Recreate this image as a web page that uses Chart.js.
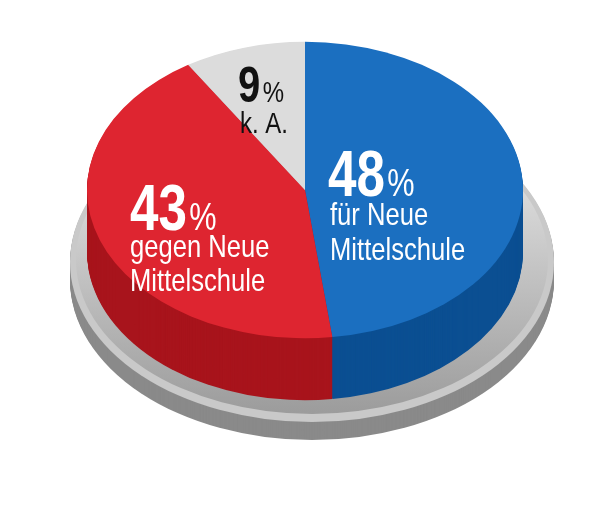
<!DOCTYPE html>
<html><head><meta charset="utf-8">
<script src="https://cdn.jsdelivr.net/npm/chart.js@4"></script>
<style>html,body{margin:0;background:#fff}#c{display:block}</style>
</head><body>
<div style="width:610px;height:508px"><canvas id="c" width="610" height="508"></canvas></div>
<script>
const categories = ['für Neue Mittelschule', 'gegen Neue Mittelschule', 'k. A.'];
const values = [48, 43, 9];
const topColors = ['#1b6fc0', '#de2530', '#dcdcdc'];
const sideColors = ['#0b4f92', '#a8141c', '#a9a9a9'];
const SY = 0.68, DEPTH = 62;
const FONT = "'Liberation Sans',sans-serif";

const pie3d = {
  id: 'pie3d',
  beforeDraw(chart) {
    const ctx = chart.ctx;
    ctx.save();
    for (let d = 18; d >= 0; d--) {
      ctx.beginPath();
      ctx.ellipse(312, 262 + d, 242, 160, 0, 0, Math.PI * 2);
      ctx.fillStyle = d > 0 ? '#8a8a8a' : '#c9c9c9';
      ctx.fill();
    }
    const g = ctx.createLinearGradient(0, 110, 0, 420);
    g.addColorStop(0, '#f0f0f0'); g.addColorStop(1, '#9a9a9a');
    ctx.beginPath(); ctx.ellipse(312, 260, 236, 154, 0, 0, Math.PI * 2);
    ctx.fillStyle = g; ctx.fill();
    ctx.restore();
  },
  beforeDatasetsDraw(chart) {
    const ctx = chart.ctx;
    const arcs = chart.getDatasetMeta(0).data;
    const a0 = arcs[0];
    ctx.save();
    ctx.translate(0, 190 - a0.y * SY);
    ctx.scale(1, SY);
    for (let d = DEPTH; d >= 1; d--) {
      arcs.forEach((a, i) => {
        ctx.beginPath();
        ctx.moveTo(a.x, a.y + d / SY);
        ctx.arc(a.x, a.y + d / SY, a.outerRadius, a.startAngle, a.endAngle);
        ctx.closePath();
        ctx.fillStyle = sideColors[i];
        ctx.fill();
      });
    }
  },
  afterDatasetsDraw(chart) {
    chart.ctx.restore();
    const ctx = chart.ctx;
    const NX = 0.8;
    function pct(txt, x, y, size, color) {
      ctx.save(); ctx.translate(x, y); ctx.scale(NX, 1);
      ctx.fillStyle = color;
      ctx.font = `bold ${size}px ${FONT}`;
      ctx.fillText(txt, 0, 0);
      const w = ctx.measureText(txt).width;
      ctx.font = `${size * 0.6}px ${FONT}`;
      ctx.fillText('%', w + 3, 0);
      ctx.restore();
    }
    function line(txt, x, y, size, color) {
      ctx.save(); ctx.translate(x, y); ctx.scale(NX, 1);
      ctx.fillStyle = color; ctx.font = `${size}px ${FONT}`; ctx.fillText(txt, 0, 0);
      ctx.restore();
    }
    pct(String(values[0]), 328, 196, 64, '#fff');
    line('für Neue', 330, 225, 32, '#fff');
    line('Mittelschule', 330, 260, 32, '#fff');
    pct(String(values[1]), 130, 230, 64, '#fff');
    line('gegen Neue', 130, 257, 32, '#fff');
    line('Mittelschule', 130, 291, 32, '#fff');
    pct(String(values[2]), 238, 102, 50, '#111');
    line(categories[2], 240, 133, 30, '#111');
  }
};

new Chart(document.getElementById('c'), {
  type: 'pie',
  data: { labels: categories, datasets: [{ data: values, backgroundColor: topColors, borderWidth: 0 }] },
  options: {
    responsive: false, animation: false,
    layout: { padding: { left: 87, right: 87, top: 0, bottom: 72 } },
    plugins: { legend: { display: false }, tooltip: { enabled: false } }
  },
  plugins: [pie3d]
});
</script>
</body></html>
